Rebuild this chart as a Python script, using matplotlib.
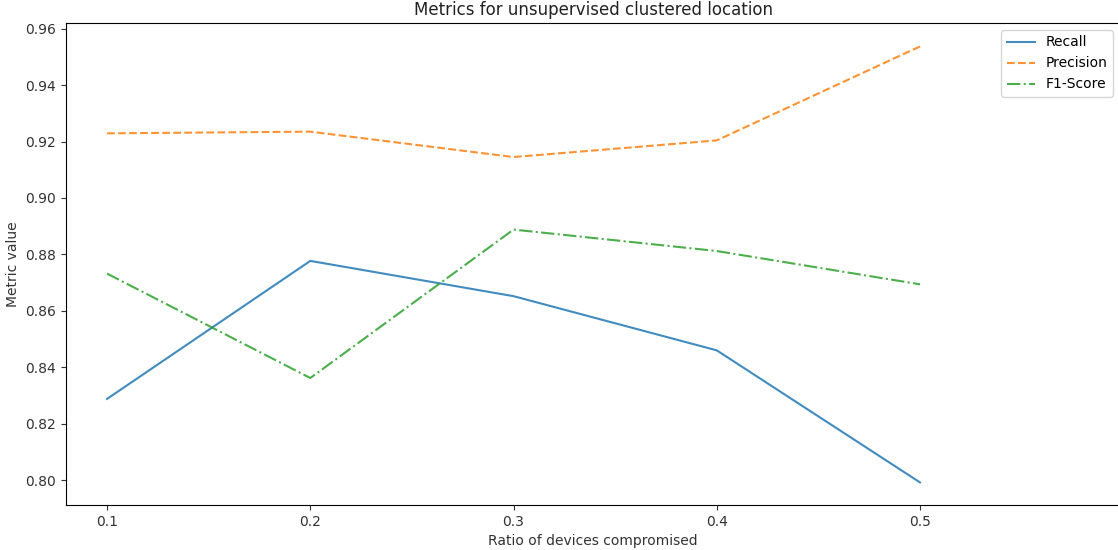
import matplotlib.pyplot as plt
import pandas as pd

ratios = [0.1, 0.2, 0.3, 0.4, 0.5]
recall = [0.8288, 0.8777, 0.8652, 0.8460, 0.7992]
precision = [0.9229, 0.9235, 0.9145, 0.9204, 0.9537]
f1_score = [0.8732, 0.8362, 0.8888, 0.8812, 0.8694]

df = pd.DataFrame({
    'Recall': recall,
    'Precision': precision,
    'F1-Score': f1_score,
}, index=ratios)

fig = plt.figure(figsize=(11.18, 5.5), dpi=100)
# right edge of the axes sits just past the figure, as in the cropped original
ax = fig.add_axes([66 / 1118, 45 / 550, 1054 / 1118, 482 / 550])

styles = {'Recall': '-', 'Precision': '--', 'F1-Score': '-.'}
colors = {'Recall': '#1f77b4', 'Precision': '#ff7f0e', 'F1-Score': '#2ca02c'}
for col in df.columns:
    ax.plot(df.index, df[col], linestyle=styles[col], color=colors[col],
            alpha=0.85, linewidth=1.5, label=col)

ax.set_xticks(ratios)
ax.set_xlim(0.0798, 0.5984)
ax.set_ylim(0.7912, 0.962)
ax.set_yticks([0.80, 0.82, 0.84, 0.86, 0.88, 0.90, 0.92, 0.94, 0.96])
ax.tick_params(colors='#333333', labelcolor='#333333')

ax.set_xlabel('Ratio of devices compromised', color='#333333')
ax.set_ylabel('Metric value', color='#333333')
ax.set_title('Metrics for unsupervised clustered location', color='#222222')
ax.legend(loc='upper right')

fig.savefig('out.png', dpi=100)
